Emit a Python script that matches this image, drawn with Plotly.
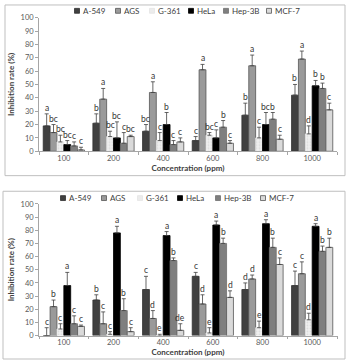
import plotly.graph_objects as go

concentrations = ["100", "200", "400", "600", "800", "1000"]
cell_lines = ["A-549", "AGS", "G-361", "HeLa", "Hep-3B", "MCF-7"]

# Top chart: values, upper error, significance letters
top_values = {
    "A-549":  [19, 21, 15, 8, 27, 42],
    "AGS":    [14, 39, 44, 61, 64, 69],
    "G-361":  [7, 11, 8, 12, 10, 13],
    "HeLa":   [5, 10, 20, 10, 20, 49],
    "Hep-3B": [4, 6, 5, 18, 24, 47],
    "MCF-7":  [1, 11, 7, 6, 9, 31],
}
top_errors = {
    "A-549":  [9, 7, 5, 3, 9, 8],
    "AGS":    [6, 8, 8, 4, 8, 6],
    "G-361":  [5, 4, 6, 2, 8, 6],
    "HeLa":   [3, 12, 9, 6, 9, 4],
    "Hep-3B": [3, 8, 3, 5, 5, 4],
    "MCF-7":  [2, 1, 3, 2, 3, 5],
}
top_letters = {
    "A-549":  ["a", "b", "bc", "c", "b", "b"],
    "AGS":    ["bc", "a", "a", "a", "a", "a"],
    "G-361":  ["bc", "bc", "c", "bc", "c", "d"],
    "HeLa":   ["bc", "bc", "b", "c", "bc", "b"],
    "Hep-3B": ["c", "c", "c", "b", "b", "b"],
    "MCF-7":  ["c", "bc", "c", "c", "c", "c"],
}

# Bottom chart
bot_values = {
    "A-549":  [0, 27, 35, 45, 35, 38],
    "AGS":    [22, 9, 13, 24, 43, 47],
    "G-361":  [5, 1, 0, 2, 6, 12],
    "HeLa":   [38, 78, 76, 84, 85, 83],
    "Hep-3B": [9, 19, 57, 70, 67, 64],
    "MCF-7":  [7, 3, 4, 29, 54, 67],
}
bot_errors = {
    "A-549":  [6, 4, 10, 3, 5, 11],
    "AGS":    [5, 9, 6, 7, 3, 9],
    "G-361":  [4, 2, 1, 4, 5, 5],
    "HeLa":   [10, 5, 3, 3, 3, 2],
    "Hep-3B": [6, 9, 2, 4, 7, 4],
    "MCF-7":  [1, 3, 5, 5, 5, 7],
}
bot_letters = {
    "A-549":  ["c", "b", "c", "c", "d", "c"],
    "AGS":    ["b", "c", "d", "d", "d", "c"],
    "G-361":  ["c", "c", "e", "e", "e", "d"],
    "HeLa":   ["a", "a", "a", "a", "a", "a"],
    "Hep-3B": ["c", "b", "b", "b", "b", "b"],
    "MCF-7":  ["c", "c", "de", "d", "c", "b"],
}

colors = {
    "A-549": "#404040",
    "AGS": "#9a9a9a",
    "G-361": "#ececec",
    "HeLa": "#000000",
    "Hep-3B": "#7f7f7f",
    "MCF-7": "#dadada",
}
outlines = {
    "A-549": "#303030",
    "AGS": "#555555",
    "G-361": "#e4e4e4",
    "HeLa": "#000000",
    "Hep-3B": "#707070",
    "MCF-7": "#555555",
}

FONT = "Lato"
BARGAP = 0.17
H = 364.0
W = 349.0

# legend layout (pixel positions of swatches) -- layout only
top_legend_px = [77, 118, 152, 191, 226, 269]
top_legend_y = 7
bot_legend_px = [63, 104, 140, 180, 218, 263]
bot_legend_y = 199

fig = go.Figure()
shapes = []

def add_chart(values, errors, letters, xa, ya, leg_px, leg_y):
    n = len(cell_lines)
    w = (1 - BARGAP) / n
    for j, name in enumerate(cell_lines):
        marker = dict(color=colors[name], line=dict(color=outlines[name], width=0.8))
        if name == "G-361":
            marker["pattern"] = dict(shape=".", fgcolor="#c8c8c8", bgcolor="#f0f0f0", size=3, solidity=0.3)
        fig.add_trace(go.Bar(
            x=concentrations, y=values[name], name=name,
            marker=marker,
            error_y=dict(type="data", symmetric=False, array=errors[name],
                         arrayminus=[0] * len(concentrations),
                         color="#404040", thickness=0.8, width=2),
            xaxis=xa, yaxis=ya, showlegend=False,
        ))
        for i, c in enumerate(concentrations):
            xpos = i - (1 - BARGAP) / 2 + (j + 0.5) * w
            fig.add_annotation(
                x=xpos, y=values[name][i] + errors[name][i],
                xref=xa, yref=ya, text=letters[name][i], showarrow=False,
                yanchor="bottom", yshift=-1,
                font=dict(family=FONT, size=8.5, color="#333333"),
            )
        # legend entry: swatch + label
        cx = leg_px[j]
        shapes.append(dict(
            type="rect", xref="paper", yref="paper",
            x0=(cx - 2.5) / W, x1=(cx + 2.5) / W,
            y0=1 - (leg_y + 2.5) / H, y1=1 - (leg_y - 2.5) / H,
            fillcolor=colors[name], line=dict(color=outlines[name], width=0.8),
        ))
        fig.add_annotation(
            x=(cx + 4) / W, y=1 - leg_y / H, xref="paper", yref="paper",
            text=name, showarrow=False, xanchor="left", yanchor="middle",
            font=dict(family=FONT, size=8, color="#404040"),
        )

add_chart(top_values, top_errors, top_letters, "x", "y", top_legend_px, top_legend_y)
add_chart(bot_values, bot_errors, bot_letters, "x2", "y2", bot_legend_px, bot_legend_y)

xdom = [39 / W, 337 / W]

axis_common_x = dict(
    type="category", showline=True, linecolor="#a6a6a6", linewidth=0.8,
    ticks="outside", tickson="boundaries", ticklen=3, tickcolor="#a6a6a6",
    tickfont=dict(family=FONT, size=7.5, color="#595959"),
    showgrid=False, zeroline=False,
)
axis_common_y = dict(
    range=[0, 100], dtick=10, showline=True, linecolor="#a6a6a6", linewidth=0.8,
    ticks="outside", ticklen=3, tickcolor="#a6a6a6",
    tickfont=dict(family=FONT, size=7.5, color="#595959"),
    showgrid=False, zeroline=False,
)

shapes += [
    dict(type="rect", xref="paper", yref="paper", x0=5 / W, x1=345 / W,
         y0=1 - 176 / H, y1=1 - 1 / H, line=dict(color="#bfbfbf", width=1)),
    dict(type="rect", xref="paper", yref="paper", x0=3 / W, x1=345 / W,
         y0=0, y1=1 - 192 / H, line=dict(color="#bfbfbf", width=1)),
]

fig.update_layout(
    width=349, height=364,
    margin=dict(l=0, r=0, t=0, b=0),
    paper_bgcolor="white", plot_bgcolor="white",
    barmode="group", bargap=BARGAP, bargroupgap=0,
    font=dict(family=FONT, size=8, color="#404040"),
    showlegend=False,
    xaxis=dict(domain=xdom, anchor="y",
               title=dict(text="<b>Concentration (ppm)</b>", standoff=2,
                          font=dict(family=FONT, size=8, color="#404040")),
               **axis_common_x),
    yaxis=dict(domain=[1 - 151 / H, 1 - 14 / H], anchor="x",
               title=dict(text="<b>Inhibition rate (%)</b>", standoff=4,
                          font=dict(family=FONT, size=8, color="#404040")),
               **axis_common_y),
    xaxis2=dict(domain=xdom, anchor="y2",
                title=dict(text="<b>Concentration (ppm)</b>", standoff=2,
                           font=dict(family=FONT, size=8, color="#404040")),
                **axis_common_x),
    yaxis2=dict(domain=[1 - 340 / H, 1 - 205 / H], anchor="x2",
                title=dict(text="<b>Inhibition rate (%)</b>", standoff=4,
                           font=dict(family=FONT, size=8, color="#404040")),
                **axis_common_y),
    shapes=shapes,
)

fig.write_html("out.html")
